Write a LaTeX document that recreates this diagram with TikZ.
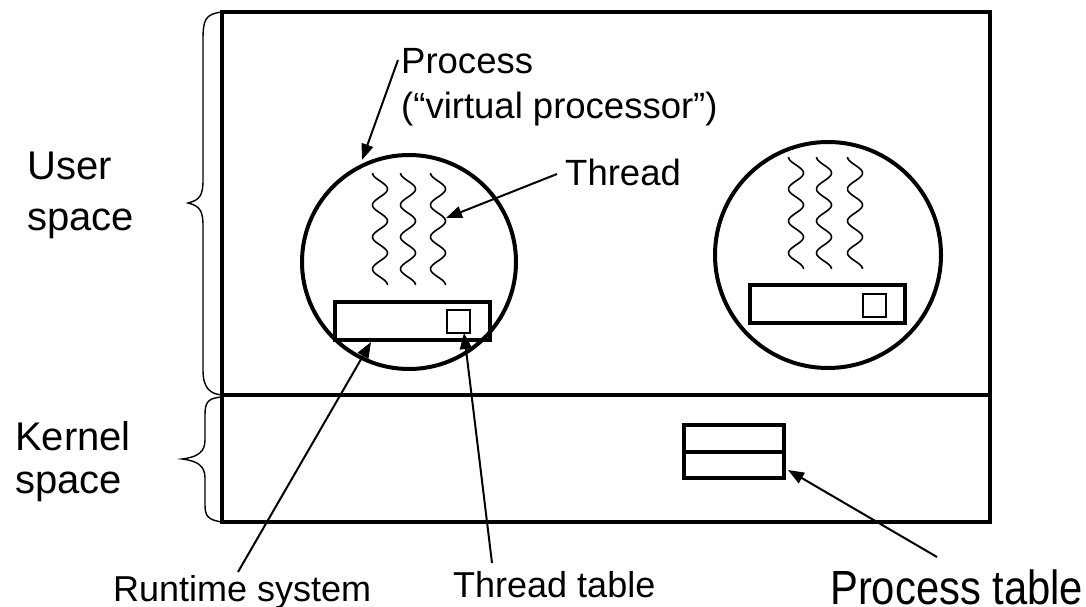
\documentclass[tikz,border=0pt]{standalone}
\usepackage{fontspec}
\setmainfont{Liberation Sans}
\usetikzlibrary{arrows.meta}
\begin{document}
\begin{tikzpicture}[x=1pt,y=-1pt,
  heavy/.style={draw, line width=4pt},
  lbl/.style={font=\fontsize{36.5}{40}\selectfont, inner sep=0pt, anchor=base west},
  side/.style={font=\fontsize{40}{44}\selectfont, inner sep=0pt, anchor=base west},
  small/.style={font=\fontsize{36}{40}\selectfont, inner sep=0pt, anchor=base west},
  big/.style={font=\fontsize{48}{52}\selectfont, inner sep=0pt, anchor=base west, xscale=0.87},
  ptr/.style={line width=2pt, -{Triangle[length=16pt,width=12pt]}},
  wave/.style={line width=1.6pt},
  proc/.style={circle, draw, line width=4pt, inner sep=0pt},
  rtbox/.style={draw, line width=3.5pt, rectangle, inner sep=0pt, minimum width=155pt, minimum height=38pt},
  ttbox/.style={draw, line width=2pt, rectangle, inner sep=0pt, minimum size=23pt},
  brc/.style={line width=1.4pt}]
\useasboundingbox (0,0) rectangle (1086,607);

% outer box and divider
\draw[heavy] (222,12) rectangle (990,522);
\draw[heavy] (222,395) -- (990,395);

% braces
\draw[brc] (222,12) .. controls (205,14) and (203,20) .. (203,40) -- (203,180)
  .. controls (203,195) and (200,200) .. (188,203)
  .. controls (200,206) and (203,211) .. (203,226) -- (203,370)
  .. controls (203,388) and (210,394) .. (222,395);
\draw[brc] (222,397) .. controls (208,398) and (205,402) .. (205,415) -- (205,440)
  .. controls (205,452) and (198,457) .. (182,459)
  .. controls (198,461) and (205,466) .. (205,478) -- (205,505)
  .. controls (205,516) and (208,520) .. (222,522);

% processes
\node[proc, minimum size=214pt] (p1) at (409,262) {};
\node[proc, minimum size=226pt] (p2) at (828,255) {};

% waves
\foreach \cx in {380,408,438}
  \draw[wave] plot[domain=0:112, samples=90, smooth] ({\cx-7.5*cos(\x*11.25)}, {173+\x});
\foreach \cx in {796,824,855}
  \draw[wave] plot[domain=0:112, samples=90, smooth] ({\cx-7.5*cos(\x*11.25)}, {157+\x});

% runtime systems and thread tables
\node[rtbox] (rt1) at (412.5,321) {};
\node[ttbox] (tt1) at (458.5,321.5) {};
\node[rtbox] (rt2) at (827.5,304) {};
\node[ttbox] (tt2) at (874.5,305.5) {};

% process table
\node[draw, line width=4pt, minimum width=100pt, minimum height=53pt, inner sep=0pt] (pt) at (734,451.5) {};
\draw[line width=4pt] (pt.west) -- (pt.east);

% labels
\node[lbl] (lproc) at (401,74) {Process};
\node[lbl] (lvirt) at (401,118) {(“virtual processor”)};
\node[lbl] (lthr) at (565,185) {Thread};
\node[side] (luser) at (27,179) {User};
\node[side] (luser2) at (27,230) {space};
\node[side] (lkern) at (15,450) {Kernel};
\node[side] (lkern2) at (15,493) {space};
\node[small] (lrt) at (113,601) {Runtime system};
\node[small] (ltt) at (453,597) {Thread table};
\node[big] (lpt) at (830,604) {Process table};

% pointers
\coordinate (a1s) at (398,60);  \coordinate (a1e) at (362,160);
\coordinate (a2s) at (557,174); \coordinate (a2e) at (446,218);
\coordinate (a3s) at (238,572); \coordinate (a3e) at (371,342);
\coordinate (a4s) at (492,563); \coordinate (a4e) at (464,333);
\coordinate (a5s) at (937,557); \coordinate (a5e) at (788,470);
\draw[ptr] (a1s) -- (a1e);
\draw[ptr] (a2s) -- (a2e);
\draw[ptr] (a3s) -- (a3e);
\draw[ptr] (a4s) -- (a4e);
\draw[ptr] (a5s) -- (a5e);
\end{tikzpicture}
\end{document}
